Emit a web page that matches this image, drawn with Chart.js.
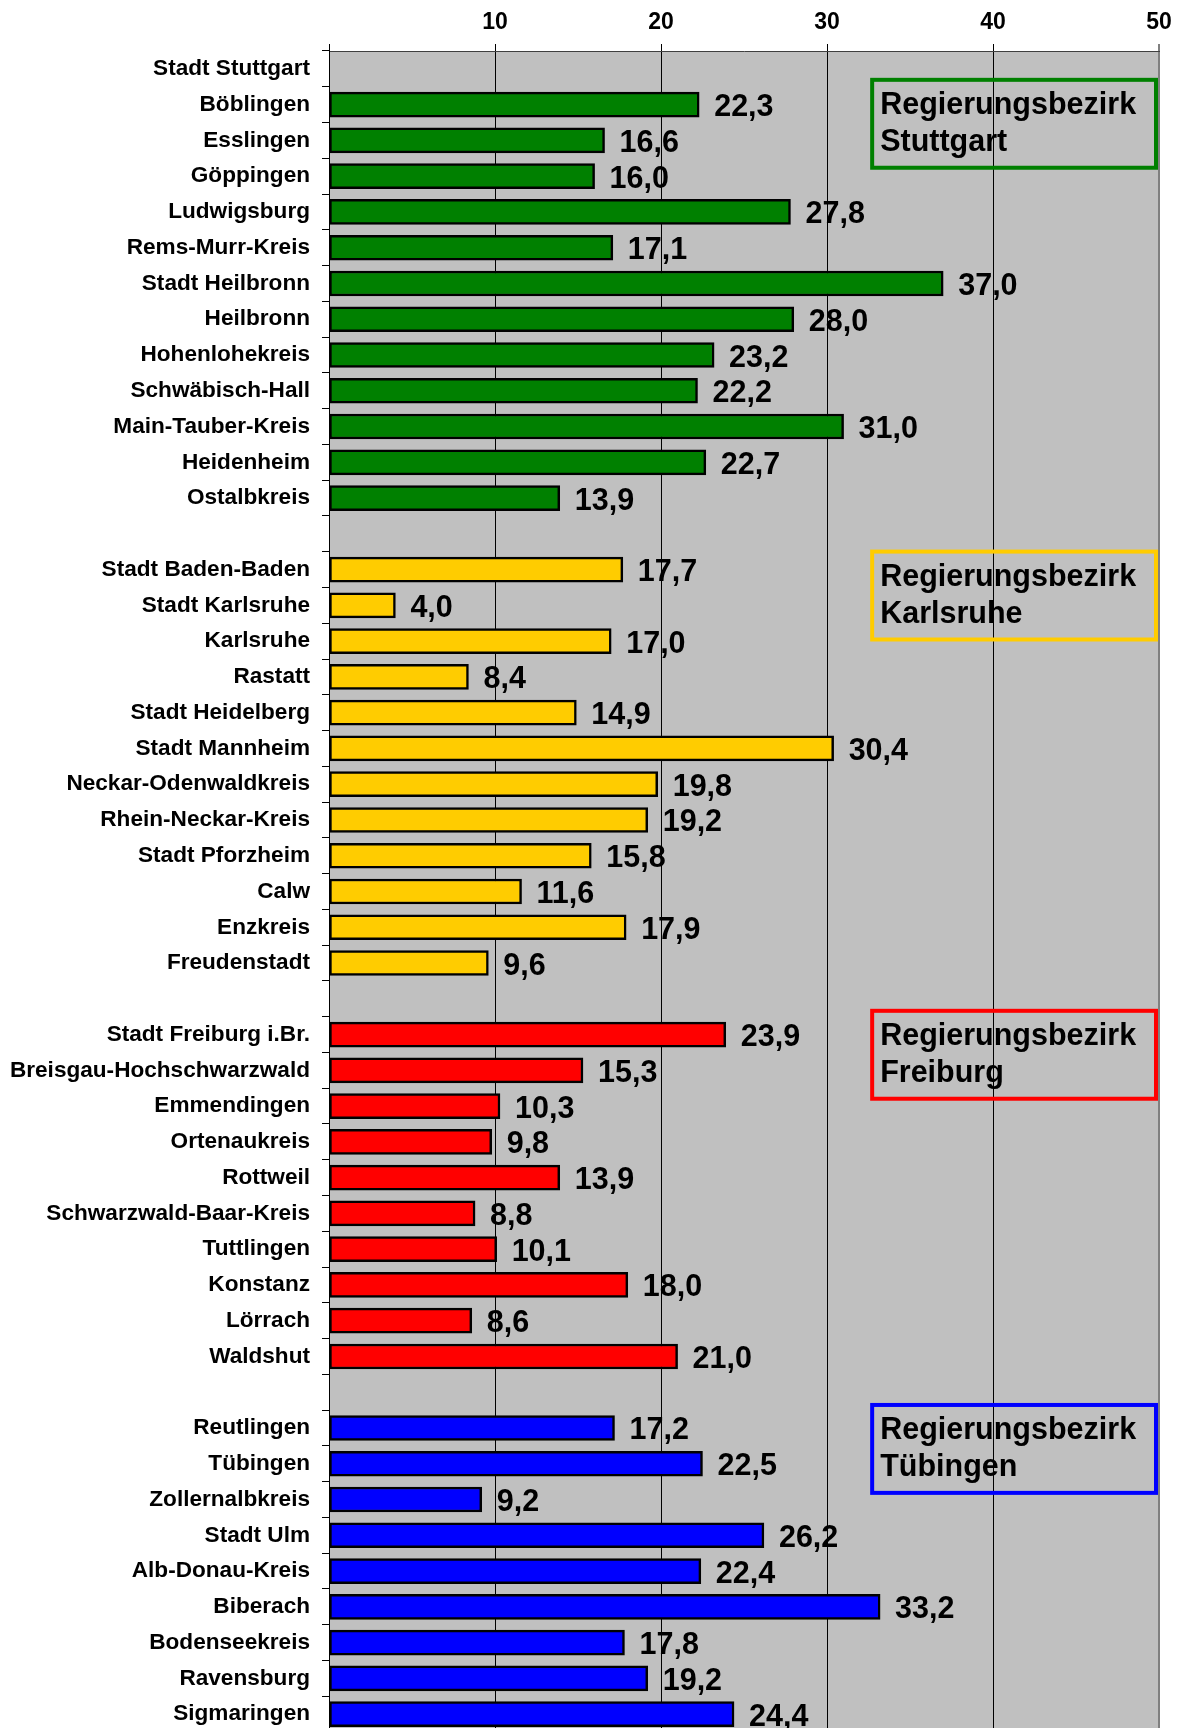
<!DOCTYPE html>
<html>
<head>
<meta charset="utf-8">
<script src="https://cdn.jsdelivr.net/npm/chart.js@4.4.1/dist/chart.umd.min.js"></script>
<style>
  html, body { margin: 0; padding: 0; background: #fff; overflow: hidden; }
  canvas { display: block; }
</style>
</head>
<body>
<canvas id="graph" width="1182" height="1732"></canvas>
<script>
// values per Regierungsbezirk
const stuttgartNames = ['Stadt Stuttgart', 'Böblingen', 'Esslingen', 'Göppingen', 'Ludwigsburg', 'Rems-Murr-Kreis',
  'Stadt Heilbronn', 'Heilbronn', 'Hohenlohekreis', 'Schwäbisch-Hall', 'Main-Tauber-Kreis', 'Heidenheim', 'Ostalbkreis'];
const stuttgartValues = [null, 22.3, 16.6, 16.0, 27.8, 17.1, 37.0, 28.0, 23.2, 22.2, 31.0, 22.7, 13.9];

const karlsruheNames = ['Stadt Baden-Baden', 'Stadt Karlsruhe', 'Karlsruhe', 'Rastatt', 'Stadt Heidelberg', 'Stadt Mannheim',
  'Neckar-Odenwaldkreis', 'Rhein-Neckar-Kreis', 'Stadt Pforzheim', 'Calw', 'Enzkreis', 'Freudenstadt'];
const karlsruheValues = [17.7, 4.0, 17.0, 8.4, 14.9, 30.4, 19.8, 19.2, 15.8, 11.6, 17.9, 9.6];

const freiburgNames = ['Stadt Freiburg i.Br.', 'Breisgau-Hochschwarzwald', 'Emmendingen', 'Ortenaukreis', 'Rottweil',
  'Schwarzwald-Baar-Kreis', 'Tuttlingen', 'Konstanz', 'Lörrach', 'Waldshut'];
const freiburgValues = [23.9, 15.3, 10.3, 9.8, 13.9, 8.8, 10.1, 18.0, 8.6, 21.0];

const tuebingenNames = ['Reutlingen', 'Tübingen', 'Zollernalbkreis', 'Stadt Ulm', 'Alb-Donau-Kreis', 'Biberach',
  'Bodenseekreis', 'Ravensburg', 'Sigmaringen'];
const tuebingenValues = [17.2, 22.5, 9.2, 26.2, 22.4, 33.2, 17.8, 19.2, 24.4];

const xTicks = [0, 10, 20, 30, 40, 50];

const groups = [
  { title: 'Stuttgart', names: stuttgartNames, values: stuttgartValues, color: '#008000', boxRow: 0.75 },
  { title: 'Karlsruhe', names: karlsruheNames, values: karlsruheValues, color: '#FFCC00', boxRow: 13.94 },
  { title: 'Freiburg', names: freiburgNames, values: freiburgValues, color: '#FF0000', boxRow: 26.78 },
  { title: 'Tübingen', names: tuebingenNames, values: tuebingenValues, color: '#0000FF', boxRow: 37.8 }
];

// flatten, with an empty row between the groups
let labels = [], values = [], colors = [];
groups.forEach(function (g, gi) {
  if (gi > 0) { labels.push(''); values.push(null); colors.push('rgba(0,0,0,0)'); }
  labels = labels.concat(g.names);
  values = values.concat(g.values);
  g.names.forEach(function () { colors.push(g.color); });
});

const FONT = '"Liberation Sans", Arial, sans-serif';

const plotBackground = {
  id: 'plotBackground',
  beforeDraw(chart) {
    const a = chart.chartArea, ctx = chart.ctx;
    ctx.save();
    ctx.fillStyle = '#C0C0C0';
    ctx.fillRect(a.left, a.top, a.right - a.left, a.bottom - a.top);
    ctx.restore();
  }
};

const valueLabels = {
  id: 'valueLabels',
  afterDatasetsDraw(chart) {
    const ctx = chart.ctx;
    const meta = chart.getDatasetMeta(0);
    ctx.save();
    ctx.font = 'bold 30.5px ' + FONT;
    ctx.fillStyle = '#000';
    ctx.textAlign = 'left';
    ctx.textBaseline = 'alphabetic';
    meta.data.forEach(function (bar, i) {
      const v = values[i];
      if (v === null) return;
      ctx.fillText(v.toFixed(1).replace('.', ','), bar.x + 15, bar.y + 11.5);
    });
    ctx.restore();
  }
};

const groupBoxes = {
  id: 'groupBoxes',
  afterDatasetsDraw(chart) {
    const ctx = chart.ctx, x = chart.scales.x, y = chart.scales.y;
    ctx.save();
    groups.forEach(function (g) {
      const left = x.getPixelForValue(32.6);
      const right = chart.chartArea.right - 1;
      const top = y.getPixelForValue(g.boxRow - 0.5);
      const bottom = y.getPixelForValue(g.boxRow + 2.07);
      ctx.lineWidth = 4;
      ctx.strokeStyle = g.color;
      ctx.strokeRect(left + 2, top + 2, right - left - 4, bottom - top - 4);
      ctx.font = 'bold 30.5px ' + FONT;
      ctx.fillStyle = '#000';
      ctx.textAlign = 'left';
      ctx.textBaseline = 'alphabetic';
      ctx.fillText('Regierungsbezirk', left + 10, top + 36);
      ctx.fillText(g.title, left + 10, top + 73);
    });
    ctx.restore();
  }
};

const ctx = document.getElementById('graph').getContext('2d');

new Chart(ctx, {
  type: 'bar',
  data: {
    labels: labels,
    datasets: [{
      data: values,
      backgroundColor: colors,
      borderColor: '#000',
      borderWidth: 2.5,
      borderSkipped: false,
      barThickness: 25
    }]
  },
  options: {
    indexAxis: 'y',
    responsive: false,
    animation: false,
    devicePixelRatio: 1,
    layout: { padding: { right: 23, left: 0, top: 0, bottom: 0 } },
    plugins: {
      legend: { display: false },
      tooltip: { enabled: false }
    },
    scales: {
      x: {
        position: 'top',
        min: 0,
        max: 50,
        afterBuildTicks: function (s) { s.ticks = xTicks.map(function (v) { return { value: v }; }); },
        afterFit: function (s) { s.height = 51; s.paddingLeft = 0; s.paddingRight = 0; },
        grid: {
          color: function (c) { return c.tick && c.tick.value === 50 ? '#808080' : '#000'; },
          lineWidth: function (c) { return c.tick && c.tick.value === 50 ? 2 : 1; },
          tickLength: 7
        },
        border: { display: true, color: '#404040', width: 1 },
        ticks: {
          padding: 8,
          color: '#000',
          font: { family: FONT, size: 23, weight: 'bold' },
          callback: function (v) { return v === 0 ? '' : v; }
        }
      },
      y: {
        afterFit: function (s) { s.width = 329; s.paddingTop = 0; s.paddingBottom = 0; },
        grid: { drawOnChartArea: false, color: '#000', tickLength: 7, offset: true },
        border: { display: true, color: '#000', width: 1 },
        ticks: {
          autoSkip: false,
          padding: 12,
          color: '#000',
          font: { family: FONT, size: 22.6, weight: 'bold' }
        }
      }
    }
  },
  plugins: [plotBackground, valueLabels, groupBoxes]
});
</script>
</body>
</html>
